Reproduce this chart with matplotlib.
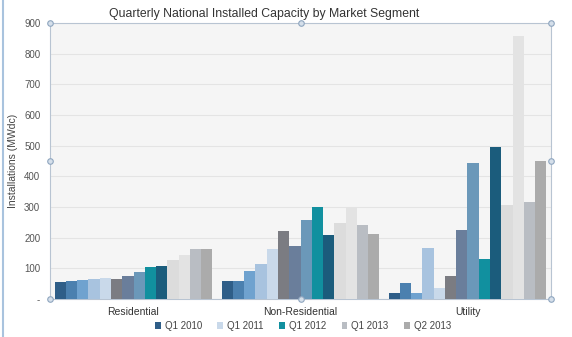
import matplotlib
matplotlib.use("Agg")
import matplotlib.pyplot as plt
import numpy as np

plt.rcParams['font.family'] = ['Liberation Sans', 'DejaVu Sans']

categories = ["Residential", "Non-Residential", "Utility"]
quarters = ["Q1 2010", "Q2 2010", "Q3 2010", "Q4 2010",
            "Q1 2011", "Q2 2011", "Q3 2011", "Q4 2011",
            "Q1 2012", "Q2 2012", "Q3 2012", "Q4 2012",
            "Q1 2013", "Q2 2013"]
residential = [54, 59, 61, 65, 69, 66, 74, 87, 105, 108, 126, 145, 163, 163]
non_residential = [60, 60, 91, 113, 164, 222, 172, 259, 301, 208, 248, 299, 240, 213]
utility = [21, 53, 20, 165, 36, 74, 225, 442, 131, 497, 306, 858, 316, 450]
legend_shown = ["Q1 2010", "Q1 2011", "Q1 2012", "Q1 2013", "Q2 2013"]
yticks = [0, 100, 200, 300, 400, 500, 600, 700, 800, 900]
ytick_labels = ["-", "100", "200", "300", "400", "500", "600", "700", "800", "900"]

colors = ["#2f5e88", "#4b80af", "#6fa2cf", "#a8c3df", "#c9d9ea",
          "#7b7c82", "#6a7e9b", "#6b98b9", "#11909f", "#1b5c7c",
          "#dcdcdc", "#e3e3e3", "#b9bdc3", "#ababab"]

fig = plt.figure(figsize=(5.72, 3.37), dpi=100)
fig.patch.set_facecolor("white")
ax = fig.add_axes([50/572, 1-299/337, 501/572, 276/337])
ax.set_facecolor("#f5f5f5")

data = np.array([residential, non_residential, utility])
x = np.arange(len(categories))
n = len(quarters)
w = 0.946 / n
for i, q in enumerate(quarters):
    offs = (i - (n - 1) / 2) * w
    ax.bar(x + offs, data[:, i], width=w, color=colors[i],
           label=q if q in legend_shown else "_nolegend_", zorder=3)

ax.set_xlim(-0.5, 2.5)
ax.set_ylim(0, 900)
ax.set_yticks(yticks)
ax.set_yticklabels(ytick_labels, fontsize=7, color="#555555")
ax.set_xticks(x)
ax.set_xticklabels(categories, fontsize=7.5, color="#333333")
ax.tick_params(axis="both", length=0, pad=6)
ax.tick_params(axis="y", pad=7)
ax.grid(axis="y", color="#e4e4e4", linewidth=0.8, zorder=0)
for s in ax.spines.values():
    s.set_color("#b8c4d2")
    s.set_linewidth(0.8)

ax.set_ylabel("Installations (MWdc)", fontsize=7.5, color="#444444")
ax.yaxis.set_label_coords(-32/501, 0.5)

fig.text(264/572, 1-14/337, "Quarterly National Installed Capacity by Market Segment",
         ha="center", va="center", fontsize=8.8, color="#333333")

# selection handles
hx = [0, 0.5, 1, 0, 1, 0, 0.5, 1]
hy = [1, 1, 1, 0.5, 0.5, 0, 0, 0]
ax.plot(hx, hy, "o", transform=ax.transAxes, clip_on=False, ms=4,
        mfc="#d5dfea", mec="#8fa6bf", mew=0.8, zorder=5)

# window edge line
fig.add_artist(plt.Line2D([3/572, 3/572], [0, 1], color="#a9c3de", lw=1.5))

handles, labels = ax.get_legend_handles_labels()
leg = fig.legend(handles, labels, loc="center", bbox_to_anchor=(303/572, 1-326/337),
                 ncol=5, frameon=False, fontsize=7, handlelength=0.6,
                 handleheight=0.6, columnspacing=1.6, handletextpad=0.4)
for t in leg.get_texts():
    t.set_color("#444444")

fig.savefig("out.png", dpi=100)
